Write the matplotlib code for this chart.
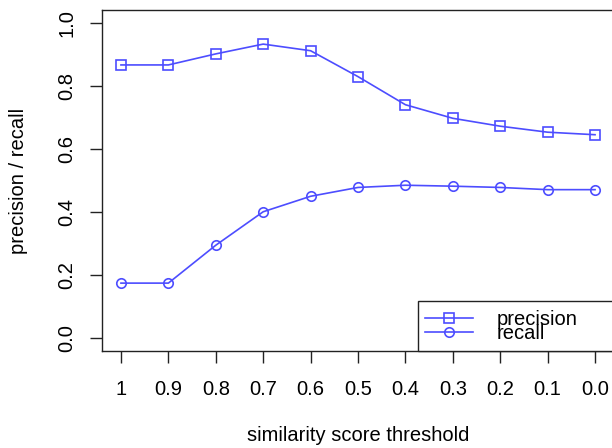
import matplotlib
matplotlib.use("Agg")
import matplotlib.pyplot as plt
from matplotlib.patches import Rectangle
import numpy as np

# similarity thresholds shown on the x axis
thresholds = ["1", "0.9", "0.8", "0.7", "0.6", "0.5", "0.4", "0.3", "0.2", "0.1", "0.0"]
precision = [0.866, 0.866, 0.901, 0.932, 0.911, 0.829, 0.740, 0.697, 0.672, 0.653, 0.645]
recall = [0.175, 0.175, 0.295, 0.401, 0.450, 0.478, 0.485, 0.482, 0.478, 0.471, 0.471]
yticks = [0.0, 0.2, 0.4, 0.6, 0.8, 1.0]


def main() -> None:
    plt.rcParams['font.family'] = ['Liberation Sans', 'DejaVu Sans']
    plt.rcParams['font.size'] = 14.5

    fig = plt.figure(figsize=(6.12, 4.48), dpi=100)
    ax = fig.add_axes([102 / 612, 97 / 448, 512 / 612, 341 / 448])

    col = '#4d4dff'
    x = np.arange(1, len(thresholds) + 1)
    ax.plot(x, precision, color=col, lw=1.2, marker='s', ms=6.8,
            mfc='none', mec=col, mew=1.2, label='precision')
    ax.plot(x, recall, color=col, lw=1.2, marker='o', ms=6.8,
            mfc='none', mec=col, mew=1.2, label='recall')

    ax.set_xlim(0.6, 11.4)
    ax.set_ylim(-0.04, 1.04)
    ax.set_xticks(x)
    ax.set_xticklabels(thresholds)
    ax.set_yticks(yticks)
    ax.set_yticklabels(["%.1f" % v for v in yticks], rotation=90, va='center')
    ax.tick_params(length=8.6, width=1.0, color='#222222')
    ax.tick_params(axis='x', pad=12)
    ax.tick_params(axis='y', pad=10)

    for s in ax.spines.values():
        s.set_linewidth(1.0)
        s.set_color('#222222')

    ax.set_xlabel("similarity score threshold", labelpad=20)
    ax.set_ylabel("precision / recall", labelpad=21)

    # legend box runs off the right edge like the original R plot
    box = Rectangle((0.617, 0), 0.45, 50 / 341, transform=ax.transAxes,
                    facecolor='white', edgecolor='#222222', lw=1.0,
                    clip_on=False, zorder=4)
    ax.add_patch(box)
    leg = ax.legend(loc='center left', bbox_to_anchor=(0.617, 24.5 / 341),
                    borderaxespad=0, frameon=False, labelspacing=-0.22,
                    handlelength=2.4, handletextpad=1.15, borderpad=0.35)
    leg.set_zorder(5)

    fig.savefig("out.png", dpi=100)


if __name__ == '__main__':
    main()
